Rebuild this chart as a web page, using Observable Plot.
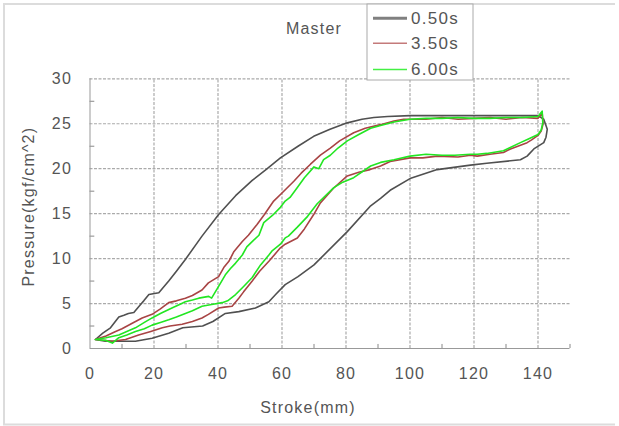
<!DOCTYPE html>
<html><head><meta charset="utf-8">
<script src="https://cdn.jsdelivr.net/npm/d3@7"></script>
<script src="https://cdn.jsdelivr.net/npm/@observablehq/plot@0.6"></script>
<style>body{margin:0;background:#fff}#chart{position:relative;width:619px;height:426px}</style>
</head><body><div id="chart"></div>
<script>
const seriesNames = ["0.50s", "3.50s", "6.00s"];
const seriesColors = ["#505050", "#a84444", "#22e622"];
const legendColors = ["#808080", "#c47a7a", "#44f044"];
const legendWidths = [3, 1.6, 1.6];

const stroke050 = [1.7,4,6.4,9,10.6,12,13.7,15.8,16.8,18.4,21.5,24.6,27,29.8,35,40.2,45.5,50.7,55,59.5,65,69.9,75,80.4,85,88.7,93,100,120,140,141.8,
  142.9,142.5,141.8,138.7,136.6,134.5,124,118.9,108.5,100,93.8,90.8,87.5,80.4,70,65,61,58,55.9,51.7,46.5,42.3,38.4,35.2,29,24.6,19.4,14.2,4.8,1.7];
const pressure050 = [1.0,1.7,2.3,3.5,3.7,3.9,4.0,4.9,5.3,6.0,6.2,7.5,8.6,9.9,12.5,14.9,17.0,18.7,19.9,21.2,22.5,23.6,24.4,25.1,25.5,25.7,25.8,25.9,25.9,25.9,25.5,
  24.4,23.5,22.9,22.2,21.4,21.0,20.6,20.4,19.9,18.9,17.6,16.7,15.8,13.0,9.3,8.0,7.1,6.0,5.2,4.5,4.1,3.9,3.0,2.5,2.3,1.7,1.15,0.8,0.8,1.0];

const stroke350 = [1.7,5,8,10,13.2,16.3,19.4,22,24.6,27,29.8,32,35,37,40.2,41.8,43.4,45,47.6,49.5,52.2,54.5,57.4,60,63.7,66,68.9,72,75.1,78,82.4,86,90.8,95,98,105,110,115,120,125,130,135,140,141.3,
  141.6,141,140,138,136.6,131.4,129.2,125,121,118.9,115,108.5,104,100,93.8,90.8,87.5,84,80.4,76,72,69.9,67,64.8,61,59.5,55.9,53,50.7,48,46.5,44.4,42,40.2,37,35,32,28.8,25,22.6,19,15.2,11.1,7,1.7];
const pressure350 = [1.0,1.4,1.9,2.2,2.8,3.4,3.8,4.4,5.1,5.3,5.6,5.9,6.5,7.3,8.0,9.0,9.7,10.8,11.9,12.6,13.8,14.9,16.4,17.3,18.6,19.5,20.5,21.5,22.3,23.1,24.0,24.5,24.9,25.3,25.5,25.5,25.7,25.5,25.6,25.7,25.5,25.7,25.6,26.2,
  25.0,24.2,23.7,23.2,22.9,22.2,21.8,21.6,21.4,21.5,21.3,21.4,21.2,21.2,20.8,20.3,19.9,19.6,19.2,17.8,16.2,14.9,13.3,12.3,11.6,11.2,9.7,8.6,7.5,6.3,5.6,4.7,4.6,4.5,3.8,3.4,3.0,2.7,2.5,2.3,1.9,1.5,1.0,0.8,1.0];

const stroke600 = [1.7,5,9,11.5,14.2,17,19.4,22,25.6,28,29.8,32,34,37.1,38,40,42.3,43.9,45.5,47.6,49,51,52.8,54.3,57,59.5,61,62.5,64.8,67,70,71.5,73,75.1,77.5,80.4,84,87.7,90.8,95,100,105,110,115,120,125,130,135,140,141.3,
  141.5,141,140,137,134.5,131,129.2,124,121,118.9,114,110,105,100,95,90.8,87.7,82.4,79,76.2,73,71,68,64.8,62,61,59.5,57,55.9,53.3,50.7,48,45.5,43,41.3,38,35,32,29.8,27,24.6,22,19.4,17,14.2,11.5,9,7,5,1.7];
const pressure600 = [1.0,1.2,1.5,1.9,2.3,2.9,3.4,3.9,4.5,4.9,5.2,5.4,5.6,5.8,5.6,6.8,8.2,8.9,9.5,10.4,11.3,12.0,12.6,14.0,14.8,15.7,16.4,16.8,17.9,19.0,20.2,20.0,21.0,21.5,22.3,23.1,23.8,24.5,24.8,25.2,25.5,25.6,25.6,25.7,25.6,25.6,25.7,25.7,25.8,26.4,
  25.1,24.3,23.8,23.3,22.9,22.3,22.0,21.7,21.6,21.6,21.5,21.5,21.6,21.4,21.0,20.7,20.3,19.0,18.5,17.9,16.8,16.1,14.7,13.5,12.5,12.3,11.6,10.9,10.4,9.3,7.9,6.9,6.0,5.3,5.1,4.9,4.7,4.2,3.9,3.5,3.2,2.9,2.6,2.2,1.9,1.5,1.2,0.6,0.9,1.0];

const xTicks = [0, 20, 40, 60, 80, 100, 120, 140];
const yTicks = [0, 5, 10, 15, 20, 25, 30];
const xMinor = [10, 30, 50, 70, 90, 110, 130, 150];
const yMinor = [2.5, 7.5, 12.5, 17.5, 22.5, 27.5];
const xLabel = "Stroke(mm)";
const yLabel = "Pressure(kgf/cm^2)";
const titleText = "Master";

const rows = [];
[[stroke050, pressure050], [stroke350, pressure350], [stroke600, pressure600]].forEach(([xs, ys], i) => {
  xs.forEach((x, j) => rows.push({series: seriesNames[i], stroke: x, pressure: ys[j]}));
});

const gridColor = "#aaaaaa";
const textColor = "#555";
const FONT = "'Liberation Sans', Arial, sans-serif";

const plot = Plot.plot({
  width: 619, height: 426,
  marginLeft: 89.5, marginRight: 49.5, marginTop: 78.3, marginBottom: 78,
  style: {fontFamily: FONT, fontSize: "16px", background: "transparent"},
  x: {domain: [0, 150], axis: null},
  y: {domain: [0, 30], axis: null},
  color: {domain: seriesNames, range: seriesColors},
  marks: [
    Plot.ruleX(xTicks.slice(1), {y1: 0, y2: 30, stroke: gridColor, strokeWidth: 1.2, strokeDasharray: "3,1.5"}),
    Plot.ruleY(yTicks.slice(1), {x1: 0, x2: 150, stroke: gridColor, strokeWidth: 1.2, strokeDasharray: "3,1.5"}),
    Plot.ruleX(xMinor, {y1: 0, y2: 0.45, stroke: "#888"}),
    Plot.ruleY(yMinor, {x1: 0, x2: 1.5, stroke: "#888"}),
    Plot.ruleX([0], {y1: 0, y2: 30, stroke: "#999"}),
    Plot.ruleY([0], {x1: 0, x2: 150, stroke: "#999"}),
    Plot.line(rows, {x: "stroke", y: "pressure", z: "series", stroke: "series", strokeWidth: 1.6, curve: "linear"}),
    Plot.text(xTicks, {x: d => d, frameAnchor: "bottom", lineAnchor: "middle", dy: 25, text: d => String(d), fill: textColor, fontSize: 16}),
    Plot.text(yTicks, {y: d => d, frameAnchor: "left", lineAnchor: "middle", dx: -18, textAnchor: "end", text: d => String(d), fill: textColor, fontSize: 16}),
    Plot.text([xLabel], {frameAnchor: "bottom", lineAnchor: "middle", textAnchor: "middle", dx: -22, dy: 59, text: d => d, fill: textColor, fontSize: 16}),
    Plot.text([yLabel], {frameAnchor: "left", lineAnchor: "middle", textAnchor: "middle", dx: -61.5, dy: -7, rotate: -90, text: d => d, fill: textColor, fontSize: 16})
  ]
});

document.getElementById("chart").appendChild(plot);
const svg = d3.select(plot);
svg.selectAll("text").style("letter-spacing", "1.2px");

// outer border
svg.append("path").attr("d", "M615,4H4V424.5H615").attr("fill", "none").attr("stroke", "#dcdcdc").attr("stroke-width", 2);

// title
svg.append("text").attr("x", 314).attr("y", 28).attr("text-anchor", "middle").attr("dominant-baseline", "central")
  .attr("fill", textColor).style("font-size", "16px").style("letter-spacing", "1.2px").style("font-family", FONT).text(titleText);

// legend
const lg = svg.append("g");
lg.append("rect").attr("x", 367).attr("y", 4).attr("width", 106).attr("height", 76).attr("fill", "#fff").attr("stroke", "#aaa");
const ly = [18.3, 43.3, 69.5];
seriesNames.forEach((n, i) => {
  lg.append("line").attr("x1", 373).attr("x2", 407).attr("y1", ly[i]).attr("y2", ly[i]).attr("stroke", legendColors[i]).attr("stroke-width", legendWidths[i]);
  lg.append("text").attr("x", 411).attr("y", ly[i]).attr("text-anchor", "start").attr("dominant-baseline", "central").attr("fill", textColor)
    .style("font-size", "17px").style("letter-spacing", "1.3px").style("font-family", FONT).text(n);
});
</script></body></html>
